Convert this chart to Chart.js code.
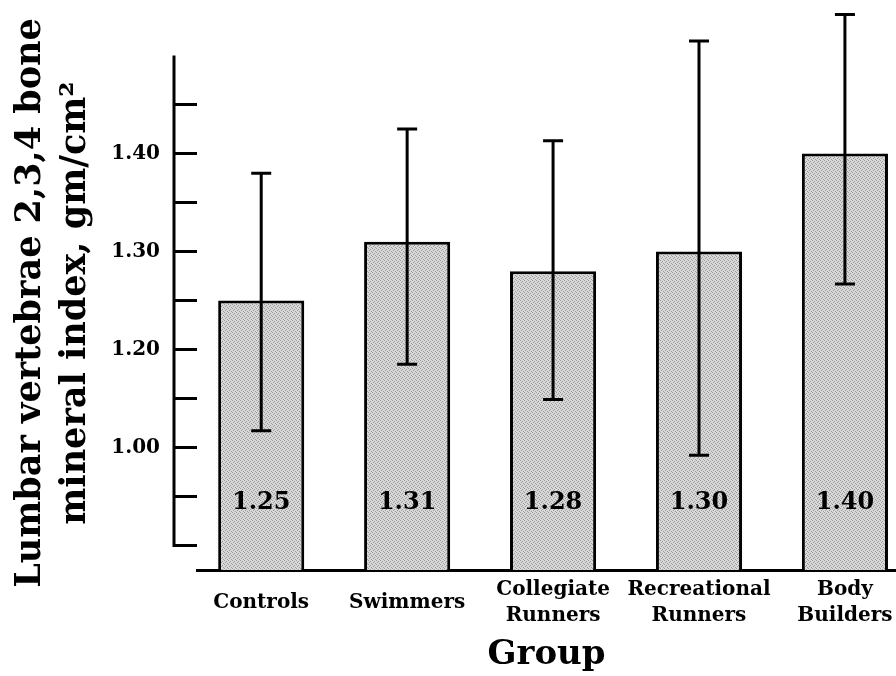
<!DOCTYPE html>
<html>
<head>
<meta charset="utf-8">
<script src="https://cdn.jsdelivr.net/npm/chart.js@4"></script>
<style>
html,body{margin:0;padding:0;background:#fff;}
#wrap{width:896px;height:676px;}
</style>
</head>
<body>
<div id="wrap"><canvas id="c" width="896" height="676"></canvas></div>
<script>
// ---- data ----
const groups = [['Controls'], ['Swimmers'], ['Collegiate', 'Runners'], ['Recreational', 'Runners'], ['Body', 'Builders']];
const means = [1.25, 1.31, 1.28, 1.30, 1.40];
const errUpper = [1.380, 1.425, 1.413, 1.515, 1.542];
const errLower = [1.117, 1.185, 1.149, 1.092, 1.267];
const yTickValues = [1.00, 1.05, 1.10, 1.15, 1.20, 1.25, 1.30, 1.35, 1.40, 1.45];
const yTickLabels = ['', '', '1.00', '', '1.20', '', '1.30', '', '1.40', ''];
const yAxisSpan = [1.00, 1.50];
const yTitle = ['Lumbar vertebrae 2,3,4 bone', 'mineral index, gm/cm\u00B2'];
const xTitle = 'Group';

const FONT = 'DejaVu Serif';
Chart.defaults.font.family = FONT;
Chart.defaults.color = '#000';

const TICK_LEN = 24;

// deterministic stipple fill for the bars
function makeStipple() {
  const c = document.createElement('canvas');
  c.width = 4; c.height = 4;
  const g = c.getContext('2d');
  g.fillStyle = '#d8d8d8';
  g.fillRect(0, 0, 4, 4);
  g.fillStyle = '#9c9c9c';
  [[0, 0], [2, 1], [1, 2], [3, 3]].forEach(([px, py]) => g.fillRect(px, py, 1, 1));
  return g.createPattern(c, 'repeat');
}
const stipple = makeStipple();

const decorPlugin = {
  id: 'decor',
  afterDatasetsDraw(chart) {
    const { ctx, scales: { x, y }, chartArea } = chart;
    ctx.save();
    ctx.strokeStyle = '#000';
    ctx.fillStyle = '#000';
    ctx.lineWidth = 3;
    ctx.lineCap = 'butt';
    // detached y axis line
    const ax = chartArea.left - TICK_LEN + 1;
    ctx.beginPath();
    ctx.moveTo(ax, y.getPixelForValue(yAxisSpan[0]) + 1.5);
    ctx.lineTo(ax, y.getPixelForValue(yAxisSpan[1]));
    ctx.stroke();
    // error bars
    for (let i = 0; i < means.length; i++) {
      const px = x.getPixelForValue(i);
      const t = y.getPixelForValue(errUpper[i]);
      const b = y.getPixelForValue(errLower[i]);
      ctx.beginPath();
      ctx.moveTo(px, t); ctx.lineTo(px, b);
      ctx.moveTo(px - 10, t); ctx.lineTo(px + 10, t);
      ctx.moveTo(px - 10, b); ctx.lineTo(px + 10, b);
      ctx.stroke();
    }
    // value labels inside bars
    ctx.font = 'bold 24px "' + FONT + '"';
    ctx.textAlign = 'center';
    ctx.textBaseline = 'middle';
    for (let i = 0; i < means.length; i++) {
      ctx.fillText(means[i].toFixed(2), x.getPixelForValue(i), chartArea.bottom - 67);
    }
    ctx.restore();
  }
};

new Chart(document.getElementById('c'), {
  type: 'bar',
  data: {
    datasets: [{
      data: means.map((v, i) => ({ x: i, y: v })),
      backgroundColor: stipple,
      borderColor: '#000',
      borderWidth: 3,
      barPercentage: 0.59,
      categoryPercentage: 1.0
    }]
  },
  options: {
    responsive: false,
    animation: false,
    devicePixelRatio: 1,
    layout: { padding: { top: 36, left: 0, right: 0, bottom: 0 } },
    plugins: { legend: { display: false }, tooltip: { enabled: false } },
    scales: {
      x: {
        type: 'linear',
        offset: false,
        min: -0.44,
        max: 4.35,
        grid: { display: false, drawTicks: false, offset: false },
        border: { display: true, color: '#000', width: 3 },
        afterBuildTicks: s => { s.ticks = groups.map((g, i) => ({ value: i })); },
        afterFit: s => { s.height = 106; s.paddingLeft = 0; s.paddingRight = 0; },
        ticks: {
          callback: v => groups[v],
          color: '#000',
          font: { family: FONT, weight: 'bold', size: 20, lineHeight: 1.3 },
          padding: 20,
          crossAlign: 'center',
          maxRotation: 0,
          autoSkip: false
        },
        title: {
          display: true,
          text: xTitle,
          color: '#000',
          font: { family: FONT, weight: 'bold', size: 34, lineHeight: 1.2 },
          padding: { top: 0, bottom: 0 }
        }
      },
      y: {
        type: 'linear',
        min: 0.975,
        max: 1.52,
        afterBuildTicks: s => { s.ticks = yTickValues.map(v => ({ value: v })); },
        afterFit: s => { s.width = 197; },
        grid: { display: true, drawOnChartArea: false, drawTicks: true, tickLength: TICK_LEN, lineWidth: 3, color: '#000' },
        border: { display: false },
        ticks: {
          callback: (v, i) => yTickLabels[i],
          color: '#000',
          font: { family: FONT, weight: 'bold', size: 20 },
          padding: 13,
          autoSkip: false
        },
        title: {
          display: true,
          text: yTitle,
          color: '#000',
          font: { family: FONT, weight: 'bold', size: 35, lineHeight: 1.27 },
          padding: { top: 9, bottom: 0 }
        }
      }
    }
  },
  plugins: [decorPlugin]
});
</script>
</body>
</html>
